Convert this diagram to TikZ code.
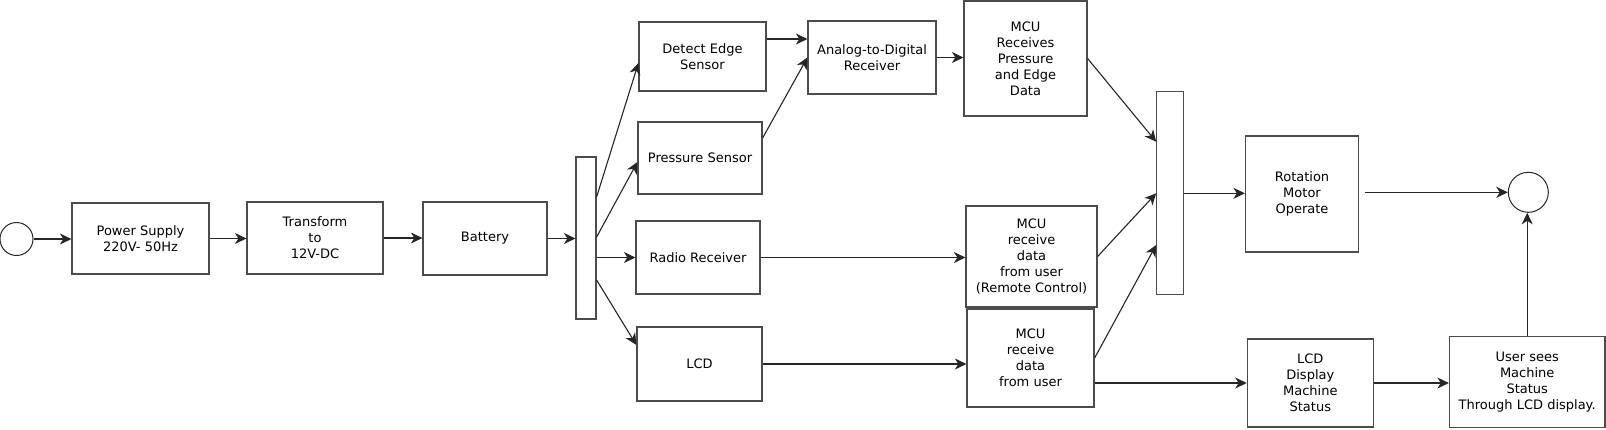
\documentclass[tikz,border=0pt]{standalone}
\usepackage{fontspec}
\setmainfont{DejaVu Sans}
\usepackage{tikz}
\usetikzlibrary{arrows.meta,positioning,calc}
\tikzset{
  block/.style={draw=black!70, line width=1.2pt, fill=white, inner sep=0pt, align=center, font=\fontsize{13}{16}\selectfont},
  bus/.style={draw=black!70, line width=1.2pt, fill=white, inner sep=0pt},
  term/.style={circle, draw=black!85, line width=1pt, inner sep=0pt},
  link/.style={-{Stealth[length=11.5pt,width=11pt,inset=3.5pt]}, line width=1.1pt, draw=black!85},
}

\begin{document}
\begin{tikzpicture}[x=1pt,y=-1pt]
\useasboundingbox (0,0) rectangle (1606,429);
% power chain
\node[term, minimum size=33pt] (src) at (16.5,239) {};
\node[block, minimum width=137pt, minimum height=71pt] (supply) at (140.5,238.5) {Power Supply\\220V- 50Hz};
\node[block, minimum width=136pt, minimum height=72pt] (trans) at (315,238) {Transform\\to\\12V-DC};
\node[block, minimum width=124pt, minimum height=73pt] (batt) at (485,238.5) {Battery};
\node[bus, minimum width=20pt, minimum height=162pt] (split) at (586,238) {};
% inputs
\node[block, minimum width=127pt, minimum height=69pt] (edge) at (702.5,56.5) {Detect Edge\\Sensor};
\node[block, minimum width=124pt, minimum height=72pt] (press) at (700,158) {Pressure Sensor};
\node[block, minimum width=124pt, minimum height=73pt] (radio) at (698,257.5) {Radio Receiver};
\node[block, minimum width=125pt, minimum height=74pt] (lcd) at (699.5,364) {LCD};
\node[block, minimum width=128pt, minimum height=73pt] (adc) at (872,57.5) {Analog-to-Digital\\Receiver};
% mcu
\node[block, minimum width=123pt, minimum height=115pt] (mcuA) at (1025.5,58.5) {MCU\\Receives\\Pressure\\and Edge\\Data};
\node[block, minimum width=131pt, minimum height=101pt] (mcuB) at (1031.5,256.5) {MCU\\receive\\data\\from user\\(Remote Control)};
\node[block, minimum width=127pt, minimum height=98pt] (mcuC) at (1030.5,358) {MCU\\receive\\data\\from user};
\node[bus, minimum width=26.5pt, minimum height=203pt] (merge) at (1170,193.3) {};
% outputs
\node[block, minimum width=113pt, minimum height=116pt] (motor) at (1302,194) {Rotation\\Motor\\Operate};
\node[term, minimum size=40pt] (sink) at (1528.3,192.3) {};
\node[block, minimum width=126pt, minimum height=88pt] (show) at (1310.3,383) {LCD\\Display\\Machine\\Status};
\node[block, minimum width=155.5pt, minimum height=90.6pt] (user) at (1527.2,382) {User sees\\Machine\\Status\\Through LCD display.};

\draw[link] (src) -- (src -| supply.west);
\draw[link] (supply.east) -- (supply.east -| trans.west);
\draw[link] (trans.east) -- (trans.east -| batt.west);
\draw[link] (batt.east) -- (batt.east -| split.west);
\draw[link] ([yshift=41pt]split.east) -- ([yshift=-6.5pt]edge.west);
\draw[link] ([yshift=1pt]split.east) -- ([yshift=-4pt]press.west);
\draw[link] (split.east |- radio.west) -- (radio.west);
\draw[link] ([yshift=-42pt]split.east) -- ([yshift=19pt]lcd.west);
\draw[link] ([yshift=17.5pt]edge.east) -- ([yshift=18.5pt]adc.west);
\draw[link] ([yshift=20pt]press.east) -- (adc.west);
\draw[link] (adc.east) -- (adc.east -| mcuA.west);
\draw[link] (radio.east) -- (radio.east -| mcuB.west);
\draw[link] (lcd.east) -- (lcd.east -| mcuC.west);
\draw[link] (mcuA.east) -- ([yshift=51.6pt]merge.west);
\draw[link] (mcuB.east) -- (merge.west);
\draw[link] (mcuC.east) -- ([yshift=-51.7pt]merge.west);
\draw[link] (merge.east) -- (merge.east -| motor.west);
\draw[link] (sink.west -| motor.east) ++(5.5,0) -- (sink.west);
\draw[link] (show.west -| mcuC.east) -- (show.west);
\draw[link] (show.east) -- (show.east -| user.west);
\draw[link] (user.north) -- (user.north |- sink.south);
\end{tikzpicture}
\end{document}
